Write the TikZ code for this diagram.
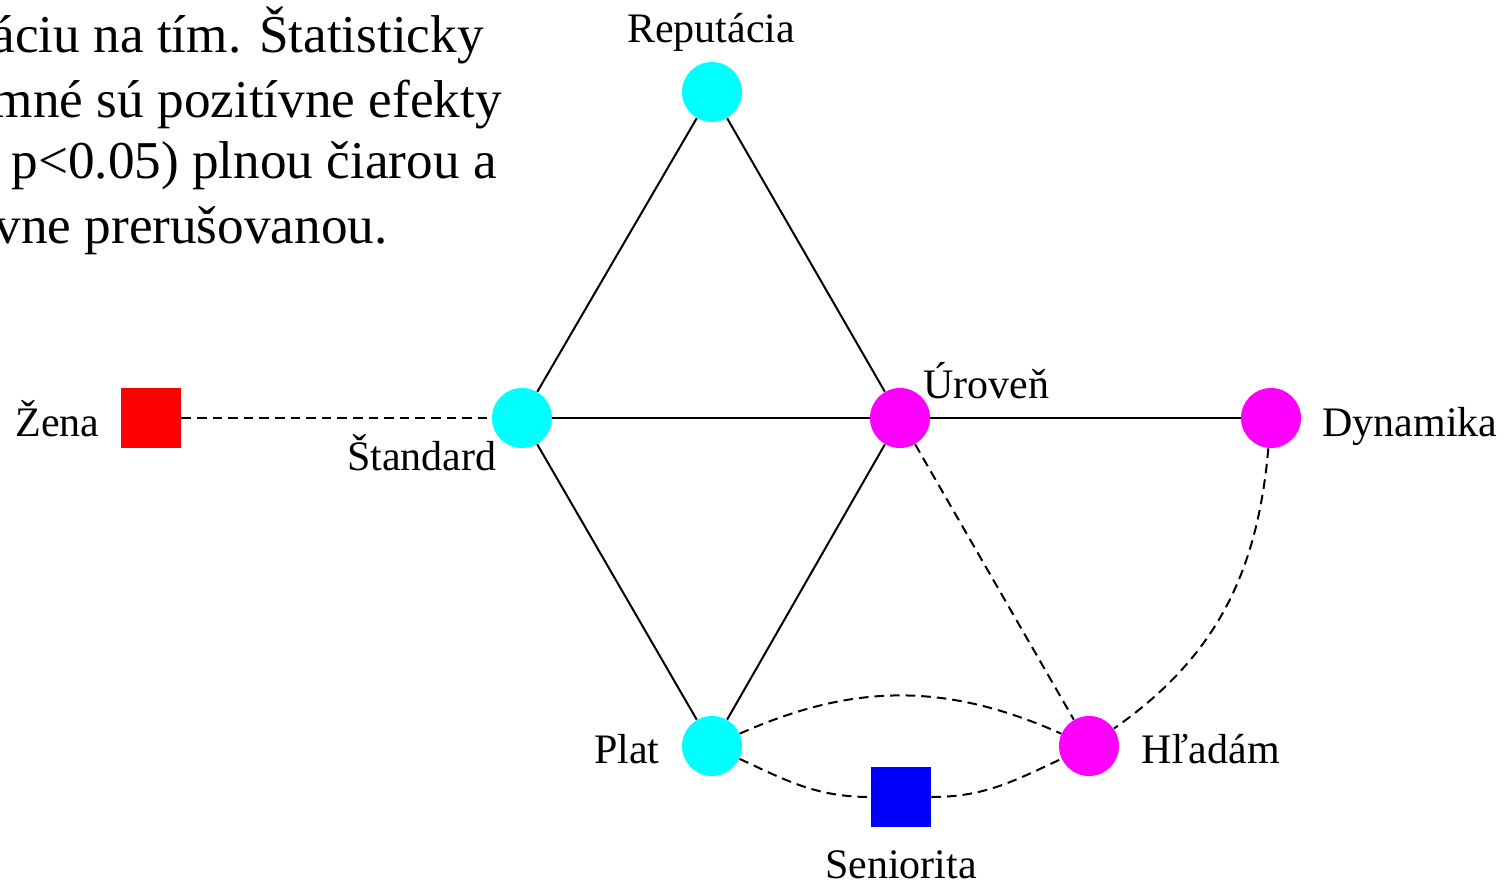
\documentclass[tikz,border=0pt]{standalone}
\usepackage{fontspec}
\setmainfont{Liberation Serif}
\definecolor{qcyan}{RGB}{0,255,255}
\definecolor{qmag}{RGB}{255,0,255}
\definecolor{qred}{RGB}{255,0,0}
\definecolor{qblue}{RGB}{0,0,255}
\begin{document}
\begin{tikzpicture}[x=0.5pt,y=-0.5pt,
  cnode/.style={circle,fill=qcyan,minimum size=30pt,inner sep=0pt},
  mnode/.style={circle,fill=qmag,minimum size=30pt,inner sep=0pt},
  sqnode/.style={rectangle,minimum size=30pt,inner sep=0pt},
  lbl/.style={font=\fontsize{21}{25}\selectfont,inner sep=0pt},
  txt/.style={font=\fontsize{26.6}{32}\selectfont,inner sep=0pt,anchor=base east},
  posedge/.style={line width=1pt},
  negedge/.style={line width=1pt,dash pattern=on 4.8pt off 3pt}]
\useasboundingbox (0,0) rectangle (1506,885);
% text fragments
\node[txt] (t1) at (484,52) {áciu na tím. Štatisticky};
\node[txt] (t2) at (502,117) {mné sú pozitívne efekty};
\node[txt] (t3) at (497,178) {p<0.05) plnou čiarou a};
\node[txt] (t4) at (388,243) {vne prerušovanou.};
% nodes
\node[cnode] (rep) at (712,92) {};
\node[cnode] (std) at (522,418) {};
\node[mnode] (uro) at (900,418) {};
\node[mnode] (dyn) at (1271,418) {};
\node[cnode] (plat) at (712,746) {};
\node[mnode] (hl) at (1089,746) {};
\node[sqnode,fill=qred] (zena) at (151,418) {};
\node[sqnode,fill=qblue] (sen) at (901,797) {};
% labels
\node[lbl,anchor=base] (lrep) at (711,42) {Reputácia};
\node[lbl,anchor=base east] (lstd) at (497,470) {Štandard};
\node[lbl,anchor=base west] (luro) at (923,398) {Úroveň};
\node[lbl,anchor=base west] (ldyn) at (1322,436) {Dynamika};
\node[lbl,anchor=base east] (lplat) at (660,763) {Plat};
\node[lbl,anchor=base west] (lhl) at (1141,763) {Hľadám};
\node[lbl,anchor=base east] (lzena) at (100,436) {Žena};
\node[lbl,anchor=base] (lsen) at (901,878) {Seniorita};
% edges
\draw[posedge] (rep) -- (std);
\draw[posedge] (rep) -- (uro);
\draw[posedge] (std) -- (uro);
\draw[posedge] (std) -- (plat);
\draw[posedge] (uro) -- (plat);
\draw[posedge] (uro) -- (dyn);
\draw[negedge] (zena) -- (std);
\draw[negedge] (uro) -- (hl);
\draw[negedge] (dyn) to[out=-95,in=35] (hl);
\draw[negedge] (plat) to[bend left=24] (hl);
\draw[negedge] (plat) to[out=-25,in=180] (sen);
\draw[negedge] (sen) to[out=0,in=205] (hl);
\end{tikzpicture}
\end{document}
